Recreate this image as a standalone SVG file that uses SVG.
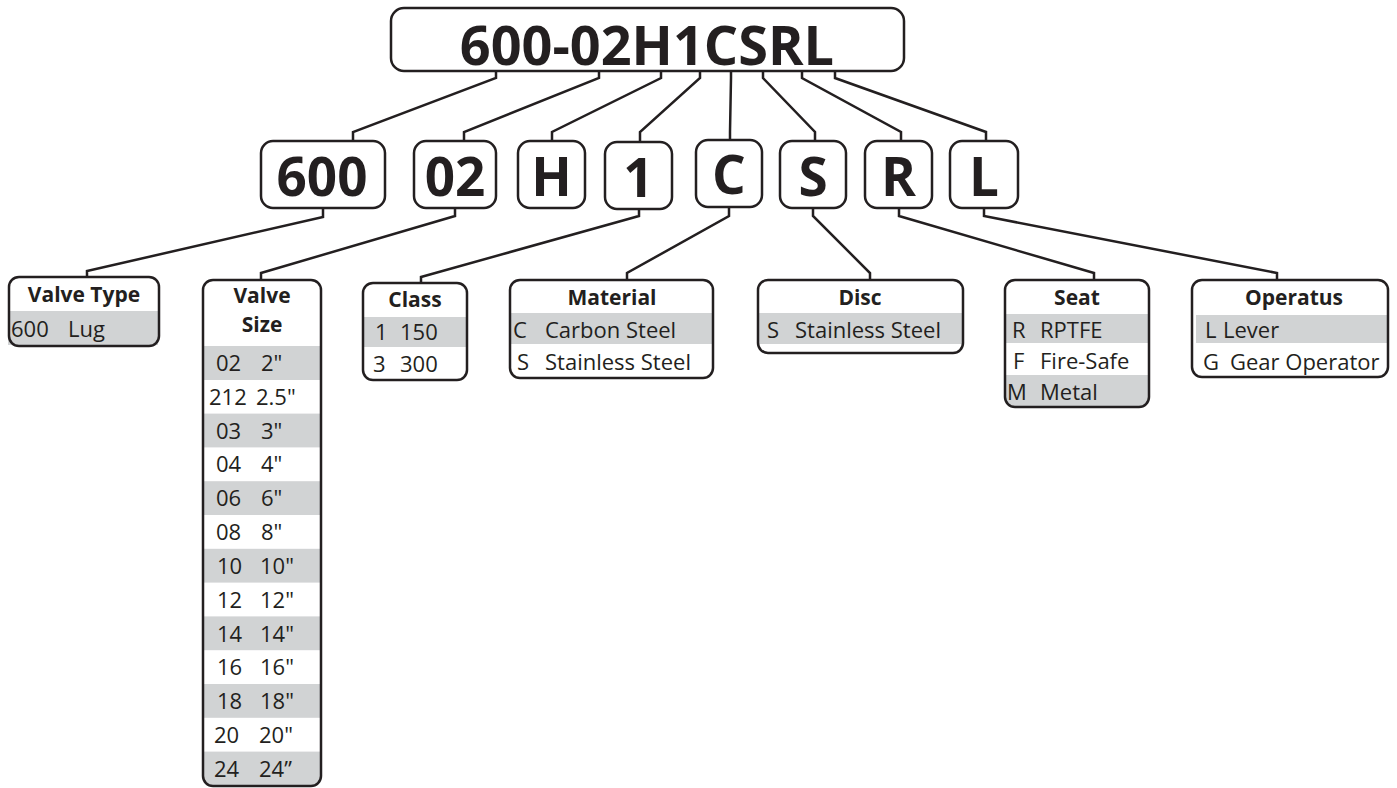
<svg xmlns="http://www.w3.org/2000/svg" width="1397" height="788" viewBox="0 0 1397 788">
<style>
.box{fill:none;stroke:#231f20;stroke-width:2.5}
.row{fill:#d1d3d4}
.con{fill:none;stroke:#231f20;stroke-width:2.5;stroke-linejoin:miter}
.big{font-family:"Open Sans","Liberation Sans",sans-serif;font-weight:700;fill:#231f20;text-anchor:middle}
.ttl{font-family:"Open Sans","Liberation Sans",sans-serif;font-weight:700;font-size:21px;fill:#231f20;text-anchor:middle}
.val{font-family:"Open Sans","Liberation Sans",sans-serif;font-size:22px;fill:#231f20}
</style>
<defs>
<clipPath id="cVS"><rect x="203" y="280" width="118" height="506" rx="10"/></clipPath>
<clipPath id="cSeat"><rect x="1004" y="280" width="145" height="127" rx="10"/></clipPath>
</defs>
<rect width="1397" height="788" fill="#ffffff"/>

<g id="connectors">
<polyline class="con" points="496,71 496,78 353,132 353,141"/>
<polyline class="con" points="599,71 599,78 464,132 464,141"/>
<polyline class="con" points="661,71 661,78 552,132 552,141"/>
<polyline class="con" points="700,71 700,78 640,132 640,141"/>
<polyline class="con" points="731,71 731,78 730,132 730,141"/>
<polyline class="con" points="763,71 763,78 815,132 815,141"/>
<polyline class="con" points="802,71 802,78 901,132 901,141"/>
<polyline class="con" points="835,71 835,78 986,132 986,141"/>
<polyline class="con" points="323,208 323,217 87,271 87,277"/>
<polyline class="con" points="455,208 455,216 261,273 261,280"/>
<polyline class="con" points="639,208 639,216 421,277 421,283"/>
<polyline class="con" points="729,208 729,216 627,273 627,280"/>
<polyline class="con" points="813,208 813,216 870,273 870,280"/>
<polyline class="con" points="899,208 899,216 1094,273 1094,280"/>
<polyline class="con" points="984,208 984,216 1277,273 1277,280"/>
</g>

<g id="code">
<rect class="box" x="391" y="8" width="513" height="63" rx="13"/>
<text class="big" x="647" y="65" font-size="54">600-02H1CSRL</text>
</g>

<g id="n600"><rect class="box" x="261" y="141" width="124" height="67" rx="12"/><text class="big" x="322" y="196" font-size="53">600</text></g>
<g id="n02"><rect class="box" x="414" y="141" width="82" height="67" rx="12"/><text class="big" x="455" y="196" font-size="53">02</text></g>
<g id="nH"><rect class="box" x="518" y="141" width="67" height="67" rx="12"/><text class="big" x="551.5" y="196" font-size="53">H</text></g>
<g id="n1"><rect class="box" x="605" y="142" width="67" height="67" rx="12"/><text class="big" x="638.5" y="197" font-size="53">1</text></g>
<g id="nC"><rect class="box" x="696" y="140" width="66" height="67" rx="12"/><text class="big" x="729" y="194" font-size="53">C</text></g>
<g id="nS"><rect class="box" x="780" y="141" width="66" height="67" rx="12"/><text class="big" x="813" y="196" font-size="53">S</text></g>
<g id="nR"><rect class="box" x="865" y="141" width="67" height="67" rx="12"/><text class="big" x="898.5" y="196" font-size="53">R</text></g>
<g id="nL"><rect class="box" x="950" y="141" width="68" height="67" rx="12"/><text class="big" x="984" y="196" font-size="53">L</text></g>

<g id="valve-type">
<rect class="row" x="8" y="311" width="150" height="34"/>
<rect class="box" x="9" y="277" width="150" height="69" rx="10"/>
<text class="ttl" x="84" y="302">Valve Type</text>
<text class="val" x="11" y="337">600</text><text class="val" x="68" y="337">Lug</text>
</g>

<g id="valve-size">
<g clip-path="url(#cVS)">
<rect class="row" x="203" y="346" width="118" height="34"/>
<rect class="row" x="203" y="413.6" width="118" height="33.8"/>
<rect class="row" x="203" y="481.2" width="118" height="33.8"/>
<rect class="row" x="203" y="548.8" width="118" height="33.8"/>
<rect class="row" x="203" y="616.4" width="118" height="33.8"/>
<rect class="row" x="203" y="684" width="118" height="33.8"/>
<rect class="row" x="203" y="751.6" width="118" height="36"/>
</g>
<rect class="box" x="203" y="280" width="118" height="506" rx="10"/>
<text class="ttl" x="262" y="303">Valve</text>
<text class="ttl" x="262" y="332">Size</text>
<text class="val" x="216" y="371">02</text><text class="val" x="261" y="371">2"</text>
<text class="val" x="209" y="405">212</text><text class="val" x="256" y="405">2.5"</text>
<text class="val" x="216" y="439">03</text><text class="val" x="261" y="439">3"</text>
<text class="val" x="216" y="472">04</text><text class="val" x="261" y="472">4"</text>
<text class="val" x="216" y="506">06</text><text class="val" x="261" y="506">6"</text>
<text class="val" x="216" y="540">08</text><text class="val" x="261" y="540">8"</text>
<text class="val" x="217" y="574">10</text><text class="val" x="260" y="574">10"</text>
<text class="val" x="217" y="608">12</text><text class="val" x="260" y="608">12"</text>
<text class="val" x="217" y="642">14</text><text class="val" x="260" y="642">14"</text>
<text class="val" x="217" y="675">16</text><text class="val" x="260" y="675">16"</text>
<text class="val" x="217" y="709">18</text><text class="val" x="260" y="709">18"</text>
<text class="val" x="214" y="743">20</text><text class="val" x="259" y="743">20"</text>
<text class="val" x="214" y="777">24</text><text class="val" x="259" y="777">24”</text>
</g>

<g id="class">
<rect class="row" x="363" y="317" width="104" height="30"/>
<rect class="box" x="363" y="283" width="104" height="97" rx="10"/>
<text class="ttl" x="415" y="307">Class</text>
<text class="val" x="375" y="340">1</text><text class="val" x="400" y="340">150</text>
<text class="val" x="373" y="372">3</text><text class="val" x="400" y="372">300</text>
</g>

<g id="material">
<rect class="row" x="510" y="313" width="203" height="31"/>
<rect class="box" x="510" y="280" width="203" height="98" rx="10"/>
<text class="ttl" x="612" y="305">Material</text>
<text class="val" x="513" y="338">C</text><text class="val" x="545" y="338">Carbon Steel</text>
<text class="val" x="517" y="370">S</text><text class="val" x="545" y="370">Stainless Steel</text>
</g>

<g id="disc">
<rect class="row" x="758" y="313" width="205" height="31"/>
<rect class="box" x="758" y="280" width="205" height="73" rx="10"/>
<text class="ttl" x="860" y="305">Disc</text>
<text class="val" x="767" y="338">S</text><text class="val" x="795" y="338">Stainless Steel</text>
</g>

<g id="seat">
<g clip-path="url(#cSeat)">
<rect class="row" x="1005" y="314" width="144" height="29"/>
<rect class="row" x="1005" y="375" width="144" height="32"/>
</g>
<rect class="box" x="1005" y="280" width="144" height="127" rx="10"/>
<text class="ttl" x="1077" y="305">Seat</text>
<text class="val" x="1012" y="338">R</text><text class="val" x="1040" y="338">RPTFE</text>
<text class="val" x="1013" y="369">F</text><text class="val" x="1040" y="369">Fire-Safe</text>
<text class="val" x="1007" y="400">M</text><text class="val" x="1040" y="400">Metal</text>
</g>

<g id="operatus">
<rect class="row" x="1196" y="315" width="192" height="28"/>
<rect class="box" x="1192" y="280" width="196" height="97" rx="10"/>
<text class="ttl" x="1294" y="305">Operatus</text>
<text class="val" x="1205" y="338">L</text><text class="val" x="1223" y="338">Lever</text>
<text class="val" x="1203" y="370">G</text><text class="val" x="1230" y="370">Gear Operator</text>
</g>
</svg>
